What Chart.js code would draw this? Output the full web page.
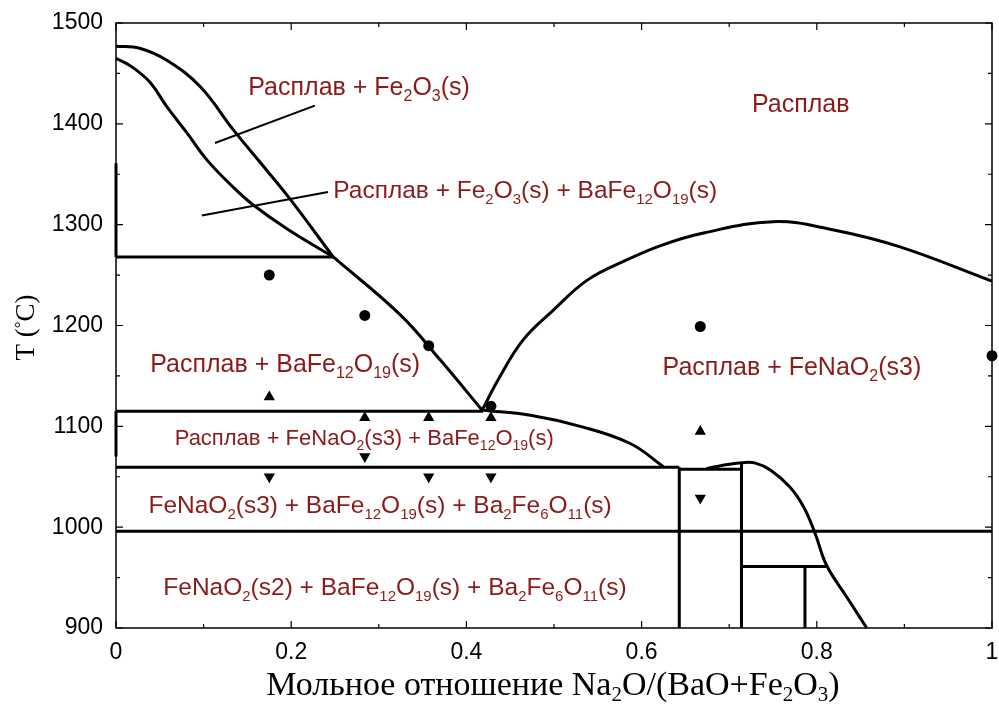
<!DOCTYPE html>
<html lang="ru">
<head>
  <meta charset="UTF-8">
  <title>Na2O - BaO - Fe2O3</title>
  <script src="https://cdn.jsdelivr.net/npm/chart.js"></script>
  <style>
    html, body { margin: 0; padding: 0; background: #fff; }
  </style>
</head>
<body>
  <canvas id="phaseChart" width="999" height="704"></canvas>

  <script>
    // ось x: мольное отношение Na2O/(BaO+Fe2O3), ось y: T, °C
    var xTicks = [0, 0.2, 0.4, 0.6, 0.8, 1];
    var yTicks = [900, 1000, 1100, 1200, 1300, 1400, 1500];

    // кривые
    var fe2o3LiqX = [0, 0.027, 0.058, 0.096, 0.134, 0.172, 0.199, 0.248];
    var fe2o3LiqT = [1477, 1475, 1463, 1437, 1394, 1354, 1325, 1268];
    var fe2o3LowX = [0, 0.019, 0.039, 0.058, 0.081, 0.104, 0.134, 0.156, 0.195, 0.248];
    var fe2o3LowT = [1465, 1456, 1441, 1417, 1391, 1364, 1337, 1320, 1296, 1268];
    var hexLiqX = [0.248, 0.324, 0.370, 0.418];
    var hexLiqT = [1268, 1211, 1166, 1116];
    var naLiqX = [0.418, 0.438, 0.465, 0.499, 0.538, 0.583, 0.621, 0.667, 0.75, 0.818, 0.895, 1.0];
    var naLiqT = [1116, 1149, 1186, 1215, 1245, 1265, 1279, 1291, 1303, 1295, 1278, 1244];
    var eutX = [0.419, 0.473, 0.530, 0.587, 0.625];
    var eutT = [1116, 1111, 1100, 1083, 1060];
    var s2X = [0.674, 0.693, 0.716, 0.73, 0.747, 0.769, 0.785, 0.798, 0.811, 0.834, 0.857];
    var s2T = [1058, 1061.5, 1064, 1063.5, 1056.7, 1040, 1020, 994, 962.5, 931, 900];

    // прямые отрезки (горизонтали и вертикали)
    var segX = [[0, 0.248], [0, 0.419], [0, 0.643], [0.643, 0.714], [0, 1], [0.714, 0.811],
                [0, 0], [0, 0], [0.643, 0.643], [0.714, 0.714], [0.7865, 0.7865]];
    var segT = [[1268, 1268], [1115, 1115], [1059.5, 1059.5], [1057.5, 1057.5], [996, 996], [961, 961],
                [1361, 1268], [1115, 1070], [900, 1059.5], [900, 1064], [900, 961]];

    // выноски
    var pointerX = [[0.113, 0.227], [0.098, 0.242]];
    var pointerT = [[1381, 1418], [1309, 1332.5]];

    // экспериментальные точки
    var circleX = [0.175, 0.284, 0.357, 0.428, 0.667, 1.0];
    var circleT = [1250, 1210, 1180, 1120, 1199, 1170];
    var upX = [0.175, 0.284, 0.357, 0.428, 0.667];
    var upT = [1129, 1108.5, 1108.5, 1108.5, 1095];
    var downX = [0.175, 0.284, 0.357, 0.428, 0.667];
    var downT = [1050, 1070, 1050, 1050, 1029];

    // подписи областей
    var regionText = [
      'Расплав + Fe_2O_3(s)',
      'Расплав + Fe_2O_3(s) + BaFe_12O_19(s)',
      'Расплав',
      'Расплав + BaFe_12O_19(s)',
      'Расплав + FeNaO_2(s3) + BaFe_12O_19(s)',
      'Расплав + FeNaO_2(s3)',
      'FeNaO_2(s3) + BaFe_12O_19(s) + Ba_2Fe_6O_11(s)',
      'FeNaO_2(s2) + BaFe_12O_19(s) + Ba_2Fe_6O_11(s)'
    ];
    var xTitle = 'Мольное отношение Na_2O/(BaO+Fe_2O_3)';

    function pts(xs, ys) {
      return xs.map(function (x, i) { return { x: x, y: ys[i] }; });
    }

    var datasets = [];
    function curve(xs, ys) {
      datasets.push({ data: pts(xs, ys), showLine: true, borderColor: '#000', borderWidth: 3,
        pointRadius: 0, tension: 0.4, fill: false, clip: false });
    }
    curve(fe2o3LiqX, fe2o3LiqT);
    curve(fe2o3LowX, fe2o3LowT);
    curve(hexLiqX, hexLiqT);
    curve(naLiqX, naLiqT);
    curve(eutX, eutT);
    curve(s2X, s2T);
    segX.forEach(function (xs, i) {
      datasets.push({ data: pts(xs, segT[i]), showLine: true, borderColor: '#000', borderWidth: 3,
        pointRadius: 0, fill: false, clip: false });
    });
    pointerX.forEach(function (xs, i) {
      datasets.push({ data: pts(xs, pointerT[i]), showLine: true, borderColor: '#000', borderWidth: 2,
        pointRadius: 0, fill: false });
    });
    datasets.push({ data: pts(circleX, circleT), pointStyle: 'circle', pointRadius: 5.5,
      backgroundColor: '#000', borderColor: '#000', borderWidth: 0, clip: false });
    datasets.push({ data: pts(upX, upT), pointStyle: 'triangle', pointRadius: 6.5,
      backgroundColor: '#000', borderColor: '#000', borderWidth: 0 });
    datasets.push({ data: pts(downX, downT), pointStyle: 'triangle', rotation: 180, pointRadius: 6.5,
      backgroundColor: '#000', borderColor: '#000', borderWidth: 0 });

    var SANS = 'Arial, "Liberation Sans", sans-serif';
    var SERIF = '"Times New Roman", "Liberation Serif", serif';
    var LABEL_COLOR = '#8b1a1a';

    // рисует текст с нижними индексами: "Fe_2O_3"
    function drawRich(ctx, str, x, y, size, family, doDraw, subShift) {
      var parts = str.split(/_(\d+)/);
      var cx = x;
      var shift = subShift || 0.24;
      parts.forEach(function (p, i) {
        if (!p) return;
        var sub = i % 2 === 1;
        ctx.font = (sub ? Math.round(size * 0.62) : size) + 'px ' + family;
        if (doDraw) ctx.fillText(p, cx, y + (sub ? size * shift : 0));
        cx += ctx.measureText(p).width;
      });
      return cx - x;
    }

    // положение подписей: [x, T, размер шрифта]
    var labelPos = [
      [0.151, 1429, 25], [0.248, 1326.5, 24.5], [0.726, 1412, 25], [0.039, 1154, 25],
      [0.067, 1081.5, 22], [0.624, 1151, 25], [0.037, 1014, 24.5], [0.054, 932.5, 24.5]
    ];

    var decorPlugin = {
      id: 'decor',
      afterDraw: function (chart) {
        var ctx = chart.ctx;
        var a = chart.chartArea;
        var sx = chart.scales.x, sy = chart.scales.y;
        ctx.save();

        // рамка
        ctx.strokeStyle = '#000';
        ctx.lineWidth = 1.5;
        ctx.strokeRect(a.left, a.top, a.right - a.left, a.bottom - a.top);

        // засечки внутрь
        ctx.lineWidth = 1.2;
        ctx.beginPath();
        for (var v = 0; v <= 1.0001; v += 0.1) {
          var px = sx.getPixelForValue(v);
          var major = Math.abs(v * 5 - Math.round(v * 5)) < 1e-6;
          var len = major ? 7 : 4;
          ctx.moveTo(px, a.bottom); ctx.lineTo(px, a.bottom - len);
          ctx.moveTo(px, a.top); ctx.lineTo(px, a.top + len);
        }
        for (var t = 900; t <= 1500; t += 50) {
          var py = sy.getPixelForValue(t);
          var lenY = t % 100 === 0 ? 7 : 4;
          ctx.moveTo(a.left, py); ctx.lineTo(a.left + lenY, py);
          ctx.moveTo(a.right, py); ctx.lineTo(a.right - lenY, py);
        }
        ctx.stroke();

        // подписи областей
        ctx.fillStyle = LABEL_COLOR;
        ctx.textAlign = 'left';
        ctx.textBaseline = 'alphabetic';
        regionText.forEach(function (txt, i) {
          var p = labelPos[i];
          drawRich(ctx, txt, sx.getPixelForValue(p[0]), sy.getPixelForValue(p[1]), p[2], SANS, true);
        });

        // подпись оси x
        ctx.fillStyle = '#000';
        var w = drawRich(ctx, xTitle, 0, 0, 34, SERIF, false);
        drawRich(ctx, xTitle, 553 - w / 2, 695, 34, SERIF, true, 0.18);

        // подпись оси y
        ctx.translate(34, (a.top + a.bottom) / 2 + 2);
        ctx.rotate(-Math.PI / 2);
        ctx.font = '27px ' + SERIF;
        var t1 = 'T (', t2 = '\u00B0', t3 = 'C)';
        var w1 = ctx.measureText(t1).width;
        ctx.font = '17px ' + SERIF;
        var w2 = ctx.measureText(t2).width;
        ctx.font = '27px ' + SERIF;
        var w3 = ctx.measureText(t3).width;
        var x0 = -(w1 + w2 + w3) / 2;
        ctx.fillText(t1, x0, 0);
        ctx.fillText(t3, x0 + w1 + w2, 0);
        ctx.font = '17px ' + SERIF;
        ctx.fillText(t2, x0 + w1, -8);
        ctx.restore();
      }
    };

    var ctx = document.getElementById('phaseChart').getContext('2d');
    var chart = new Chart(ctx, {
      type: 'scatter',
      data: { datasets: datasets },
      options: {
        responsive: false,
        animation: false,
        layout: { padding: { top: 23, right: 7, left: 0, bottom: 0 } },
        plugins: { legend: { display: false }, tooltip: { enabled: false } },
        scales: {
          x: {
            type: 'linear', min: 0, max: 1,
            afterFit: function (s) { s.height = 76; s.paddingLeft = 0; s.paddingRight = 0; },
            afterBuildTicks: function (s) { s.ticks = xTicks.map(function (v) { return { value: v }; }); },
            grid: { display: false, drawTicks: false },
            border: { display: false },
            ticks: {
              color: '#000', padding: 11, maxRotation: 0,
              font: { family: SANS, size: 23 },
              callback: function (v) { return v === 0 || v === 1 ? String(v) : v.toFixed(1); }
            }
          },
          y: {
            type: 'linear', min: 900, max: 1500,
            afterFit: function (s) { s.width = 116; s.paddingTop = 0; s.paddingBottom = 0; },
            afterBuildTicks: function (s) { s.ticks = yTicks.map(function (v) { return { value: v }; }); },
            grid: { display: false, drawTicks: false },
            border: { display: false },
            ticks: {
              color: '#000', padding: 13,
              font: { family: SANS, size: 23 },
              callback: function (v) { return String(v); }
            }
          }
        }
      },
      plugins: [decorPlugin]
    });
  </script>
</body>
</html>
